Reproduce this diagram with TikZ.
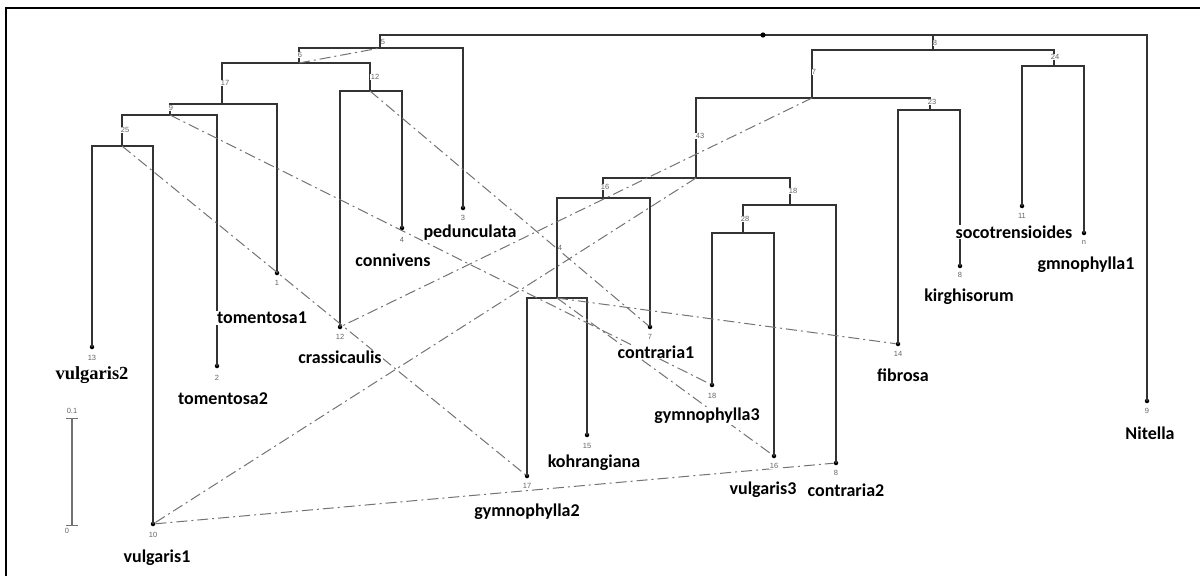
\documentclass[tikz,border=0pt]{standalone}
\usepackage{fontspec}
\setmainfont{Carlito}
\newfontfamily\serlbl{Liberation Serif}
\newfontfamily\numfont{Liberation Sans}

\begin{document}
\begin{tikzpicture}[x=1pt,y=-1pt,
		branch/.style={draw=black!80,line width=1.1pt},
		link/.style={draw=black!55,line width=1pt,dash pattern=on 11pt off 4pt on 2pt off 4pt},
		num/.style={font=\numfont\fontsize{7.5}{8}\selectfont,text=black!60,fill=white,inner sep=0.4pt},
		taxon/.style={font=\bfseries\fontsize{18}{20}\selectfont,fill=white,inner sep=1pt},
		tip/.style={circle,fill=black,inner sep=0pt,minimum size=4.5pt}]
		\useasboundingbox (0,0) rectangle (1200,576);
		\draw[line width=1.2pt] (6,576) -- (6,8) -- (1201,8);
		
		% internal nodes
		\coordinate (r) at (763,35);
		\coordinate (n5) at (380,48);
		\coordinate (n6) at (299,63);
		\coordinate (n17) at (222,104);
		\coordinate (n9) at (170,115);
		\coordinate (n25) at (122,146);
		\coordinate (n12) at (370,91);
		\coordinate (n8) at (933,50);
		\coordinate (n7) at (812,98);
		\coordinate (n43) at (696,178);
		\coordinate (n16) at (603,198);
		\coordinate (n4) at (557,298);
		\coordinate (n18) at (790,205);
		\coordinate (n28) at (743,233);
		\coordinate (n23) at (930,110);
		\coordinate (n24) at (1054,66);
		
		% tips
		\node[tip] (vul2) at (92,347) {};
		\node[tip] (tom2) at (217,366) {};
		\node[tip] (tom1) at (277,273) {};
		\node[tip] (cra) at (340,327) {};
		\node[tip] (con) at (402,228) {};
		\node[tip] (ped) at (463,208) {};
		\node[tip] (gym2) at (527,476) {};
		\node[tip] (koh) at (587,435) {};
		\node[tip] (con1) at (650,327) {};
		\node[tip] (gym3) at (712,385) {};
		\node[tip] (vul3) at (774,456) {};
		\node[tip] (con2) at (836,463) {};
		\node[tip] (vul1) at (153,524) {};
		\node[tip] (fib) at (898,344) {};
		\node[tip] (kir) at (960,266) {};
		\node[tip] (soc) at (1022,206) {};
		\node[tip] (gmn) at (1084,233) {};
		\node[tip] (nit) at (1147,401) {};
		
		% tree
		\draw[branch] (n5) |- (r) -| (nit.center);
		\draw[branch] (n8) -- (n8 |- r);
		\draw[branch] (n6) |- (n5) -| (ped.center);
		\draw[branch] (n17) |- (n6) -| (n12);
		\draw[branch] (n9) |- (n17) -| (tom1.center);
		\draw[branch] (n25) |- (n9) -| (tom2.center);
		\draw[branch] (vul2.center) |- (n25) -| (vul1.center);
		\draw[branch] (cra.center) |- (n12) -| (con.center);
		\draw[branch] (n7) |- (n8) -| (n24);
		\draw[branch] (n43) |- (n7) -| (n23);
		\draw[branch] (n16) |- (n43) -| (n18);
		\draw[branch] (n4) |- (n16) -| (con1.center);
		\draw[branch] (gym2.center) |- (n4) -| (koh.center);
		\draw[branch] (n28) |- (n18) -| (con2.center);
		\draw[branch] (gym3.center) |- (n28) -| (vul3.center);
		\draw[branch] (fib.center) |- (n23) -| (kir.center);
		\draw[branch] (soc.center) |- (n24) -| (gmn.center);
		\fill (r) circle (2.6pt);
		
		% crossing links
		\draw[link] (n6) -- (n5);
		\draw[link] (n9) -- (gym3);
		\draw[link] (n25) -- (gym2);
		\draw[link] (n12) -- (con1);
		\draw[link] (n7) -- (cra);
		\draw[link] (n43) -- (vul1);
		\draw[link] (vul1) -- (con2);
		\draw[link] (n4) -- (fib);
		\draw[link] (n4) -- (vul3);
		
		% node numbers
		\node[num] (k5) at (383,42) {5};
		\node[num] (k6) at (300,55) {6};
		\node[num] (k17) at (225,83) {17};
		\node[num] (k9) at (171,108) {9};
		\node[num] (k25) at (125,130) {25};
		\node[num] (k12) at (375,77) {12};
		\node[num] (k8) at (935,43) {8};
		\node[num] (k24) at (1055,57) {24};
		\node[num] (k7) at (814,72) {7};
		\node[num] (k23) at (932,102) {23};
		\node[num] (k43) at (700,136) {43};
		\node[num] (k16) at (605,187) {16};
		\node[num] (k18) at (793,191) {18};
		\node[num] (k28) at (745,219) {28};
		\node[num] (k4) at (560,248) {4};
		
		\node[num] (t13) at (92,358) {13};
		\node[num] (t2) at (217,378) {2};
		\node[num] (t1) at (277,283) {1};
		\node[num] (t12) at (340,337) {12};
		\node[num] (t4) at (402,240) {4};
		\node[num] (t3) at (463,218) {3};
		\node[num] (t17) at (527,486) {17};
		\node[num] (t15) at (587,446) {15};
		\node[num] (t7) at (650,337) {7};
		\node[num] (t18) at (712,396) {18};
		\node[num] (t16) at (774,466) {16};
		\node[num] (t8a) at (836,473) {8};
		\node[num] (t10) at (153,535) {10};
		\node[num] (t14) at (898,354) {14};
		\node[num] (t8b) at (960,275) {8};
		\node[num] (t11) at (1022,216) {11};
		\node[num] (tn) at (1084,242) {n};
		\node[num] (t9) at (1147,411) {9};
		
		% taxa
		\node[taxon,font=\serlbl\bfseries\fontsize{18.5}{20}\selectfont] (lvul2) at (92,375) {vulgaris2};
		\node[taxon] (ltom2) at (223,399) {tomentosa2};
		\node[taxon] (ltom1) at (262,318) {tomentosa1};
		\node[taxon] (lcra) at (340,357) {crassicaulis};
		\node[taxon] (lcon) at (393,260) {connivens};
		\node[taxon] (lped) at (470,233) {pedunculata};
		\node[taxon] (lcon1) at (656,352) {contraria1};
		\node[taxon] (lgym3) at (707,416) {gymnophylla3};
		\node[taxon] (lkoh) at (594,463) {kohrangiana};
		\node[taxon] (lgym2) at (527,512) {gymnophylla2};
		\node[taxon] (lvul3) at (763,490) {vulgaris3};
		\node[taxon] (lcon2) at (846,490) {contraria2};
		\node[taxon] (lvul1) at (157,558) {vulgaris1};
		\node[taxon] (lfib) at (903,375) {fibrosa};
		\node[taxon] (lkir) at (969,297) {kirghisorum};
		\node[taxon] (lsoc) at (1014,232) {socotrensioides};
		\node[taxon] (lgmn) at (1086,265) {gmnophylla1};
		\node[taxon] (lnit) at (1150,433) {Nitella};
		
		% scale bar
		\coordinate (s0) at (72,525);
		\coordinate (s1) at (72,418);
		\draw[draw=black!55,line width=1.3pt] (s0) -- (s1);
		\draw[draw=black!55,line width=1pt] ([xshift=-6pt]s0) -- ([xshift=6pt]s0);
		\draw[draw=black!55,line width=1pt] ([xshift=-6pt]s1) -- ([xshift=6pt]s1);
		\node[num] (b1) at (72,411) {0.1};
		\node[num] (b0) at (67,531) {0};
	\end{tikzpicture}
\end{document}
